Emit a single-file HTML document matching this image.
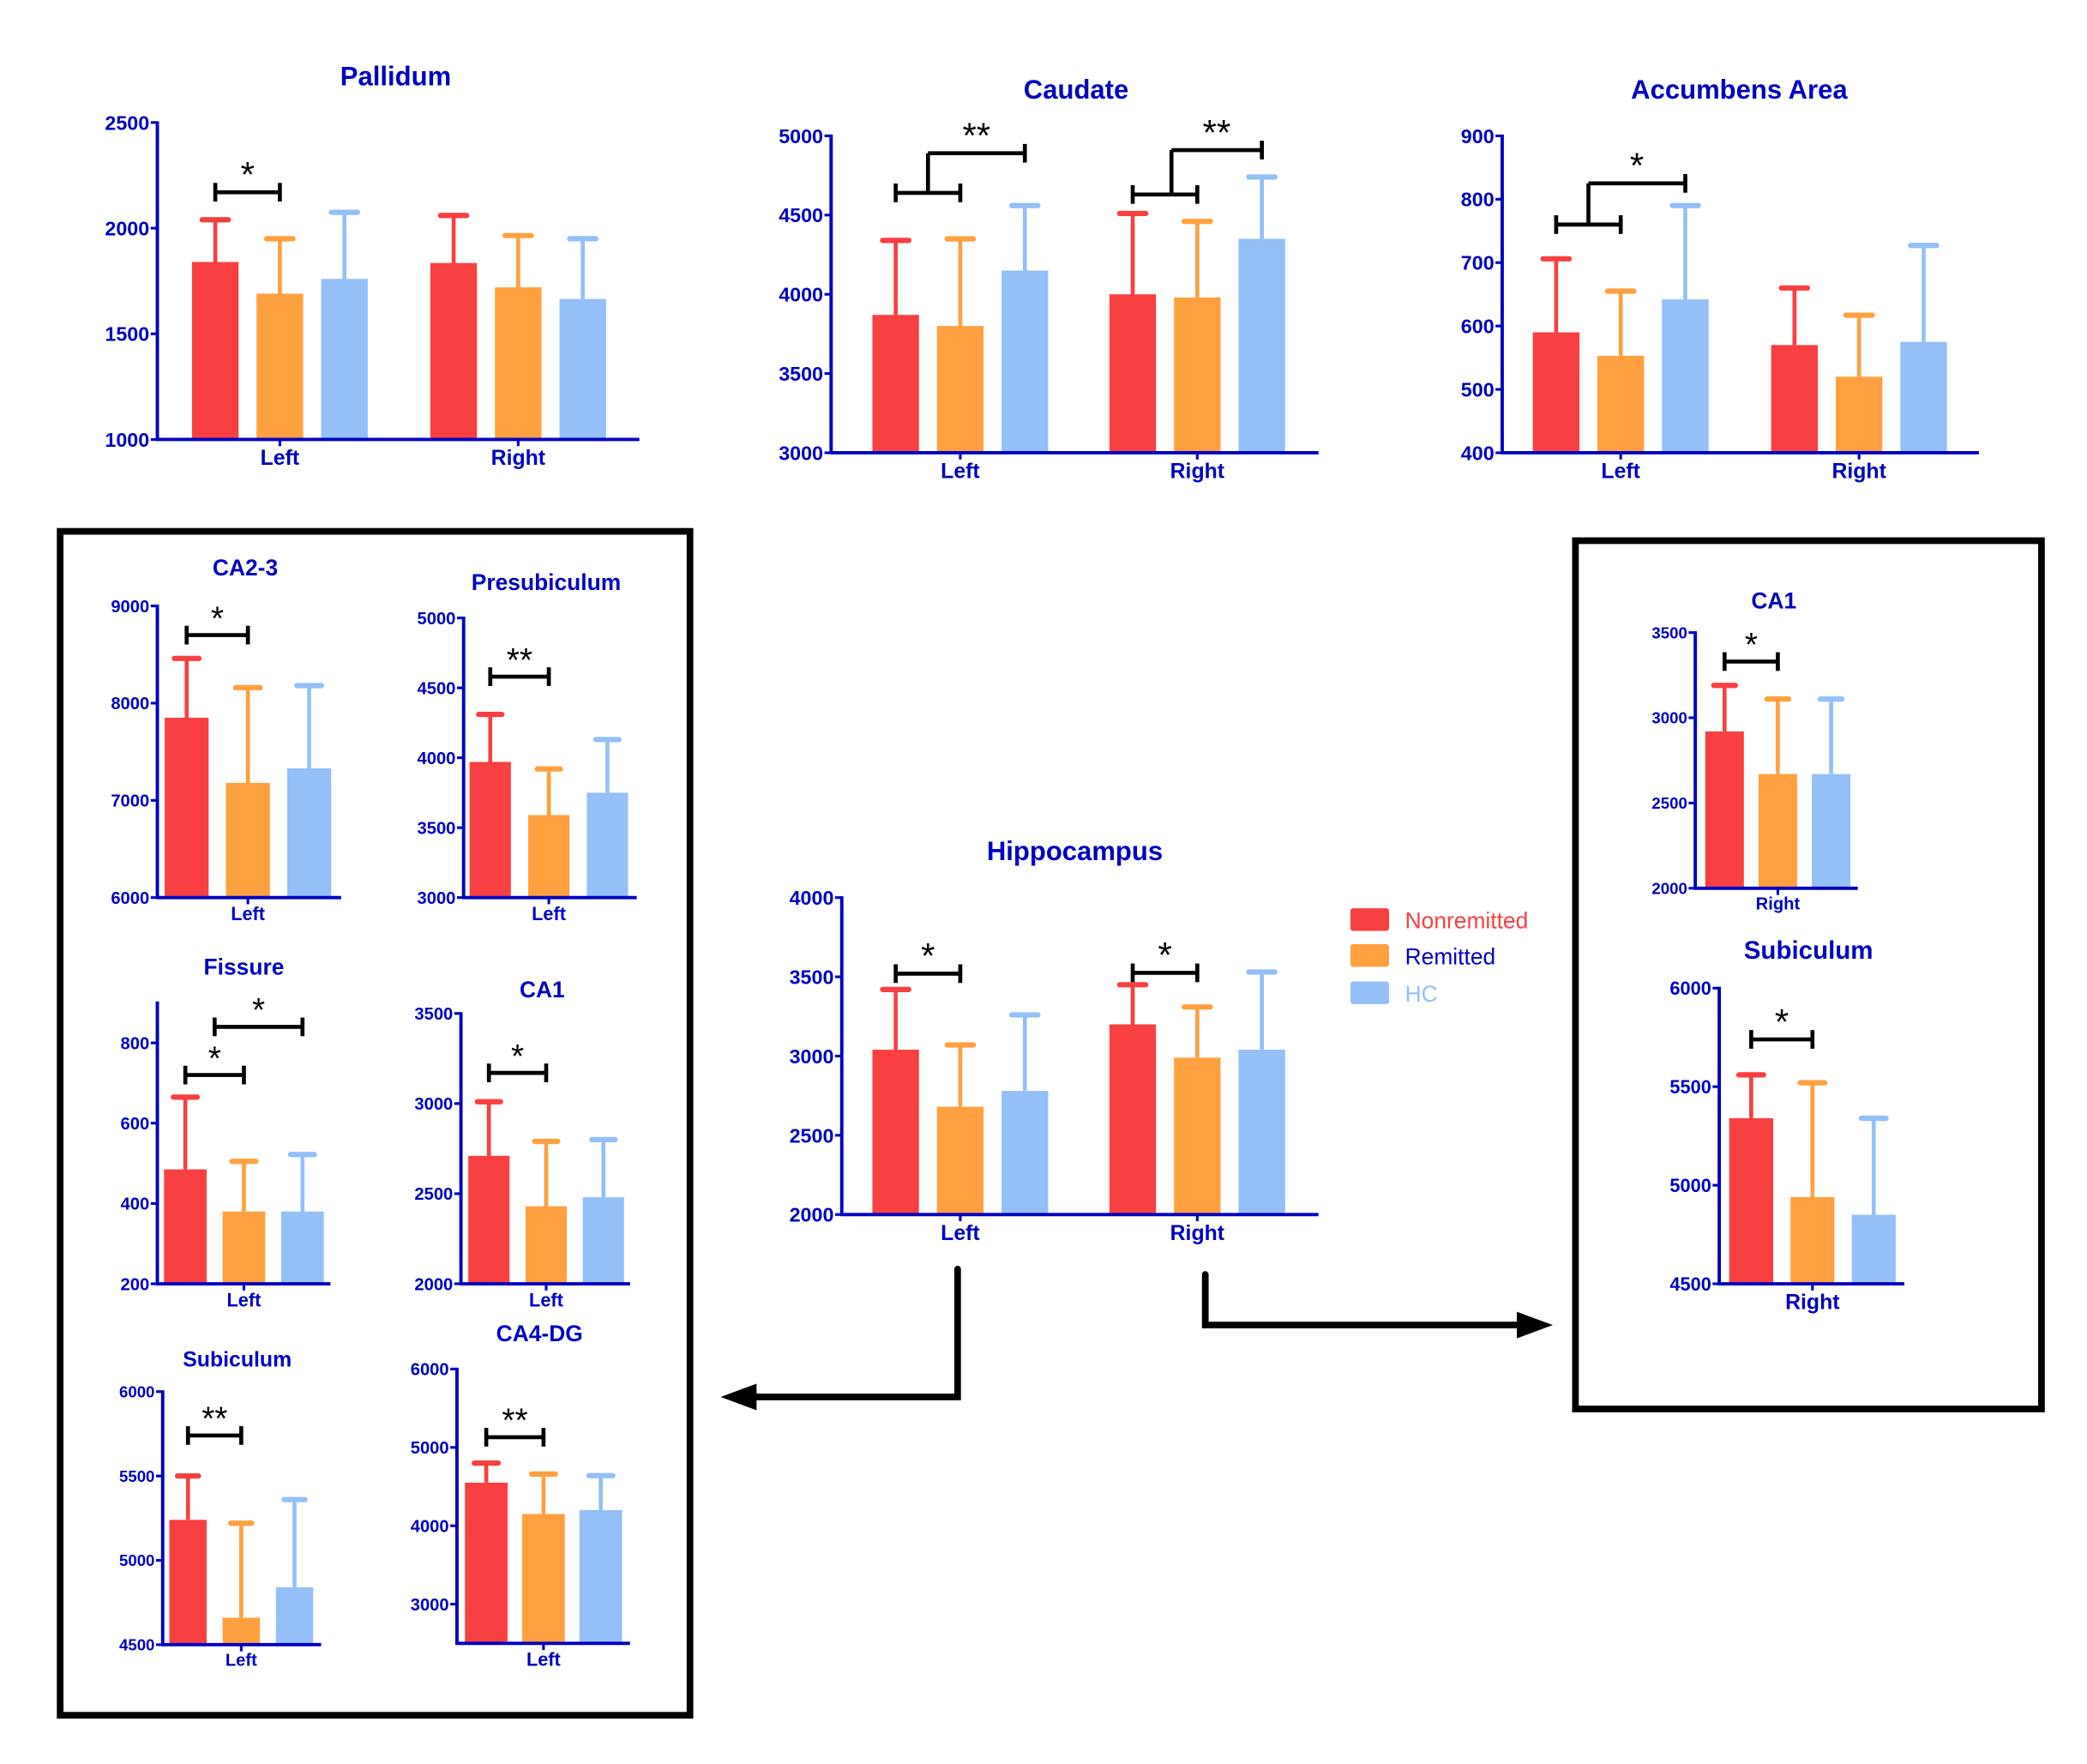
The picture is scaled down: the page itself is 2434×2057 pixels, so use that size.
<!DOCTYPE html>
<html><head><meta charset="utf-8"><style>
html,body{margin:0;padding:0;background:#fff}
svg{display:block}
text{font-family:"Liberation Sans",Arial,sans-serif}
</style></head><body>
<svg id="fig" width="2434" height="2057" viewBox="0 0 1567 1324.6" xmlns="http://www.w3.org/2000/svg">
<rect x="0" y="0" width="1567" height="1324.6" fill="#fff"/>
<rect x="45" y="399" width="473" height="889" fill="none" stroke="#000" stroke-width="5"/>
<rect x="1183" y="406" width="350" height="652" fill="none" stroke="#000" stroke-width="5"/>
<g>
<polyline points="719,953 719,1049 562,1049" fill="none" stroke="#000" stroke-width="5" stroke-linecap="round"/>
<polygon points="541,1049 568,1039 568,1059" fill="#000"/>
</g>
<g>
<polyline points="905,957 905,995 1145,995" fill="none" stroke="#000" stroke-width="5" stroke-linecap="round"/>
<polygon points="1166,995 1139,985 1139,1005" fill="#000"/>
</g>
<g>
<g><rect x="1014" y="682" width="29" height="17" rx="2" fill="#f84042"/><text x="1055" y="697" font-size="17" fill="#f84042">Nonremitted</text></g>
<g><rect x="1014" y="709" width="29" height="17" rx="2" fill="#ffa040"/><text x="1055" y="724" font-size="17" fill="#0000c0">Remitted</text></g>
<g><rect x="1014" y="737" width="29" height="17" rx="2" fill="#94bff7"/><text x="1055" y="752" font-size="17" fill="#94bff7">HC</text></g>
</g>
</svg>
<script>
// ---- data ----
const seriesNames = ["Nonremitted","Remitted","HC"];
const pallidumMeans = [[1840,1690,1760],[1835,1720,1665]];
const pallidumErr   = [[2040,1950,2075],[2060,1965,1950]];
const caudateMeans = [[3870,3800,4150],[4000,3980,4350]];
const caudateErr   = [[4340,4350,4560],[4510,4460,4740]];
const accumbensMeans = [[590,553,642],[570,520,575]];
const accumbensErr   = [[706,655,790],[660,617,727]];
const ca23Means = [[7850,7180,7330]];
const ca23Err   = [[8460,8160,8180]];
const presubMeans = [[3970,3590,3750]];
const presubErr   = [[4310,3920,4130]];
const fissureMeans = [[485,380,380]];
const fissureErr   = [[665,505,522]];
const ca1LMeans = [[2710,2430,2480]];
const ca1LErr   = [[3010,2790,2800]];
const subLMeans = [[5240,4660,4840]];
const subLErr   = [[5500,5220,5360]];
const ca4Means = [[4550,4150,4200]];
const ca4Err   = [[4800,4660,4640]];
const hippoMeans = [[3040,2680,2780],[3200,2990,3040]];
const hippoErr   = [[3420,3070,3260],[3450,3310,3530]];
const ca1RMeans = [[2920,2670,2670]];
const ca1RErr   = [[3190,3110,3110]];
const subRMeans = [[5340,4940,4850]];
const subRErr   = [[5560,5520,5340]];
const bothGroups = ["Left","Right"];
const leftOnly = ["Left"];
const rightOnly = ["Right"];

const COLORS=["#f84042","#ffa040","#94bff7"];
const AX="#0000c0";
const NS="http://www.w3.org/2000/svg";
const svg=document.getElementById('fig');
function el(tag,attrs,parent){const e=document.createElementNS(NS,tag);for(const k in attrs)e.setAttribute(k,attrs[k]);(parent||svg).appendChild(e);return e;}

function panel(p){
  const g=el('g',{});
  
  
  const y=v=>p.base-(v-p.ymin)/(p.ymax-p.ymin)*(p.base-p.top);
  const bx=(gi,i)=>p.centers[gi]+(i-1)*p.sp;
  const t=el('text',{x:p.tx,y:p.ty,'font-size':p.tfs,'font-weight':'bold',fill:AX,'text-anchor':'middle'},g);
  t.textContent=p.title;
  
  
  p.means.forEach((row,gi)=>row.forEach((m,i)=>{
    const cx=bx(gi,i), e=p.err[gi][i];
    const eb=el('line',{x1:cx,x2:cx,y1:y(m),y2:y(e),stroke:COLORS[i],'stroke-width':3},g);
    
    
    el('line',{x1:cx-p.w*0.28,x2:cx+p.w*0.28,y1:y(e),y2:y(e),stroke:COLORS[i],'stroke-width':4,'stroke-linecap':'round'},g);
    const r=el('rect',{x:cx-p.w/2,y:y(m),width:p.w,height:p.base-y(m),fill:COLORS[i]},g);
    
    
  }));
  const ya=el('line',{x1:p.ax,x2:p.ax,y1:p.top-1,y2:p.base+1,stroke:AX,'stroke-width':2.5},g);
  
  
  const xa=el('line',{x1:p.ax-1,x2:p.xend,y1:p.base,y2:p.base,stroke:AX,'stroke-width':2.5},g);
  
  
  p.ticks.forEach(v=>{
    el('line',{x1:p.ax-5,x2:p.ax,y1:y(v),y2:y(v),stroke:AX,'stroke-width':2},g);
    const tl=el('text',{x:p.ax-6,y:y(v)+p.fs*0.36,'font-size':p.fs,'font-weight':'bold',fill:AX,'text-anchor':'end'},g);
    tl.textContent=v;
    
    
  });
  p.groups.forEach((gn,gi)=>{
    const c=p.centers[gi];
    el('line',{x1:c,x2:c,y1:p.base,y2:p.base+5,stroke:AX,'stroke-width':2},g);
    const xl=el('text',{x:c,y:p.base+p.gfs+3,'font-size':p.gfs,'font-weight':'bold',fill:AX,'text-anchor':'middle'},g);
    xl.textContent=gn;
    
    
  });
  (p.br||[]).forEach(b=>{
    const x1=bx(b.g,b.a), x2=bx(b.g,b.b), yy=y(b.v);
    const bg=el('g',{stroke:'#000','stroke-width':3,fill:'none'},g);
    
    
    el('line',{x1:x1,x2:x2,y1:yy,y2:yy},bg);
    el('line',{x1:x2,x2:x2,y1:yy-7,y2:yy+7},bg);
    if(b.stem!==undefined) el('line',{x1:x1,x2:x1,y1:yy,y2:y(b.stem)},bg);
    else el('line',{x1:x1,x2:x1,y1:yy-7,y2:yy+7},bg);
    if(b.s){const st=el('text',{x:(x1+x2)/2,y:yy-4,'font-size':p.sfs,'text-anchor':'middle',fill:'#000'},g);st.textContent=b.s;}
  });
}
panel({name:'pallidum',title:'Pallidum',tx:297,ty:64,tfs:20,ax:118,top:92,base:330,xend:480,ymin:1000,ymax:2500,ticks:[1000,1500,2000,2500],
  groups:bothGroups,centers:[210,389],sp:48.5,w:35,means:pallidumMeans,err:pallidumErr,fs:15,gfs:16,sfs:27,
  br:[{g:0,a:0,b:1,v:2170,s:'*'}]});
panel({name:'caudate',title:'Caudate',tx:808,ty:74,tfs:20,ax:624,top:102,base:340,xend:990,ymin:3000,ymax:5000,ticks:[3000,3500,4000,4500,5000],
  groups:bothGroups,centers:[721,899],sp:48.5,w:35,means:caudateMeans,err:caudateErr,fs:15,gfs:16,sfs:27,
  br:[{g:0,a:0,b:1,v:4640,s:''},{g:0,a:0.5,b:2,v:4890,s:'**',stem:4640},{g:1,a:0,b:1,v:4630,s:''},{g:1,a:0.6,b:2,v:4910,s:'**',stem:4630}]});
panel({name:'accumbens',title:'Accumbens Area',tx:1306,ty:74,tfs:20,ax:1128,top:102,base:340,xend:1486,ymin:400,ymax:900,ticks:[400,500,600,700,800,900],
  groups:bothGroups,centers:[1217,1396],sp:48.5,w:35,means:accumbensMeans,err:accumbensErr,fs:15,gfs:16,sfs:27,
  br:[{g:0,a:0,b:1,v:760,s:''},{g:0,a:0.5,b:2,v:825,s:'*',stem:760}]});
panel({name:'ca2-3',title:'CA2-3',tx:184,ty:432,tfs:17,ax:118,top:455,base:674,xend:256,ymin:6000,ymax:9000,ticks:[6000,7000,8000,9000],
  groups:leftOnly,centers:[186],sp:46,w:33,means:ca23Means,err:ca23Err,fs:13,gfs:14,sfs:25,
  br:[{g:0,a:0,b:1,v:8700,s:'*'}]});
panel({name:'presubiculum',title:'Presubiculum',tx:410,ty:443,tfs:17,ax:348,top:464,base:674,xend:478,ymin:3000,ymax:5000,ticks:[3000,3500,4000,4500,5000],
  groups:leftOnly,centers:[412],sp:44,w:31,means:presubMeans,err:presubErr,fs:13,gfs:14,sfs:25,
  br:[{g:0,a:0,b:1,v:4580,s:'**'}]});
panel({name:'fissure',title:'Fissure',tx:183,ty:732,tfs:17,ax:118,top:753,base:964,xend:248,ymin:200,ymax:900,ticks:[200,400,600,800],
  groups:leftOnly,centers:[183],sp:44,w:32,means:fissureMeans,err:fissureErr,fs:13,gfs:14,sfs:25,
  br:[{g:0,a:0,b:1,v:720,s:'*'},{g:0,a:0.5,b:2,v:840,s:'*'}]});
panel({name:'ca1-left',title:'CA1',tx:407,ty:749,tfs:17,ax:346,top:761,base:964,xend:473,ymin:2000,ymax:3500,ticks:[2000,2500,3000,3500],
  groups:leftOnly,centers:[410],sp:43,w:31,means:ca1LMeans,err:ca1LErr,fs:13,gfs:14,sfs:25,
  br:[{g:0,a:0,b:1,v:3170,s:'*'}]});
panel({name:'subiculum-left',title:'Subiculum',tx:178,ty:1026,tfs:16,ax:122,top:1045,base:1235,xend:241,ymin:4500,ymax:6000,ticks:[4500,5000,5500,6000],
  groups:leftOnly,centers:[181],sp:40,w:28,means:subLMeans,err:subLErr,fs:12,gfs:13,sfs:25,
  br:[{g:0,a:0,b:1,v:5740,s:'**'}]});
panel({name:'ca4-dg',title:'CA4-DG',tx:405,ty:1007,tfs:17,ax:343,top:1028,base:1234,xend:473,ymin:2500,ymax:6000,ticks:[3000,4000,5000,6000],
  groups:leftOnly,centers:[408],sp:43,w:32,means:ca4Means,err:ca4Err,fs:13,gfs:14,sfs:25,
  br:[{g:0,a:0,b:1,v:5130,s:'**'}]});
panel({name:'hippocampus',title:'Hippocampus',tx:807,ty:646,tfs:20,ax:632,top:674,base:912,xend:990,ymin:2000,ymax:4000,ticks:[2000,2500,3000,3500,4000],
  groups:bothGroups,centers:[721,899],sp:48.5,w:35,means:hippoMeans,err:hippoErr,fs:15,gfs:16,sfs:27,
  br:[{g:0,a:0,b:1,v:3520,s:'*'},{g:1,a:0,b:1,v:3525,s:'*'}]});
panel({name:'ca1-right',title:'CA1',tx:1332,ty:457,tfs:17,ax:1273,top:475,base:667,xend:1395,ymin:2000,ymax:3500,ticks:[2000,2500,3000,3500],
  groups:rightOnly,centers:[1335],sp:40,w:29,means:ca1RMeans,err:ca1RErr,fs:12,gfs:13,sfs:25,
  br:[{g:0,a:0,b:1,v:3330,s:'*'}]});
panel({name:'subiculum-right',title:'Subiculum',tx:1358,ty:720,tfs:19,ax:1291,top:742,base:964,xend:1430,ymin:4500,ymax:6000,ticks:[4500,5000,5500,6000],
  groups:rightOnly,centers:[1361],sp:46,w:33,means:subRMeans,err:subRErr,fs:14,gfs:16,sfs:27,
  br:[{g:0,a:0,b:1,v:5740,s:'*'}]});
</script>
</body></html>
